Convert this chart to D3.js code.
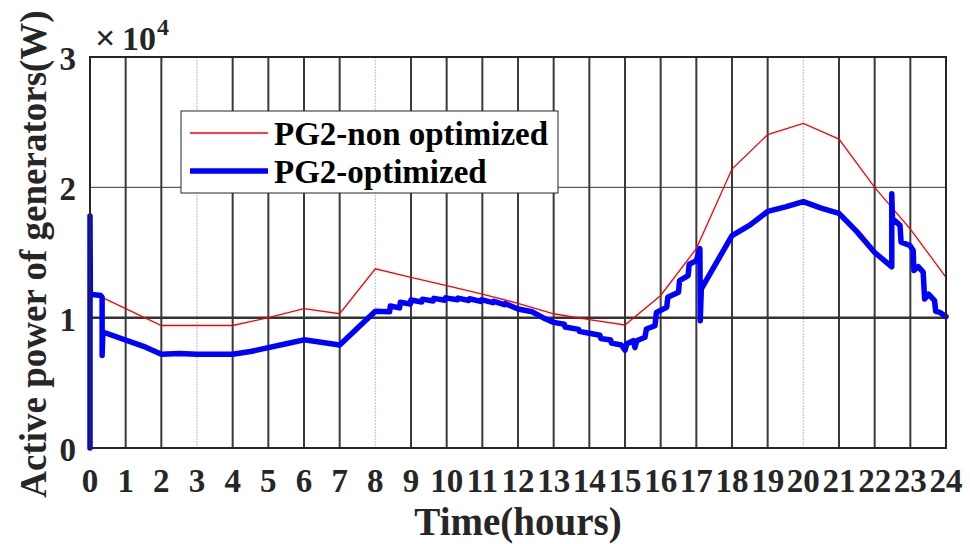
<!DOCTYPE html>
<html>
<head>
<meta charset="utf-8">
<script src="https://cdn.jsdelivr.net/npm/d3@7"></script>
<style>
  body { margin: 0; background: #fff; }
  svg { display: block; font-family: "Liberation Serif", "Times New Roman", serif; }
</style>
</head>
<body>
<svg id="chart" width="970" height="544"></svg>
<script>
// hourly values of the non optimized PG2 (x 10^4 W)
const hours = [0,1,2,3,4,5,6,7,8,9,10,11,12,13,14,15,16,17,18,19,20,21,22,23,24];
const pg2_non_opt = [1.2,1.07,0.94,0.94,0.94,1.0,1.07,1.03,1.375,1.31,1.245,1.18,1.11,1.03,0.985,0.944,1.17,1.53,2.14,2.405,2.49,2.37,2.0,1.68,1.31];

// optimized PG2, sampled where the trace bends or jumps
const opt_time = [0,0,0.01,0.3,0.34,0.34,0.36,1.5,2,2.5,3,4,4.5,5,5.5,6,7,8,
  8.4,8.42,8.68,8.7,8.98,9.0,9.3,9.32,9.62,9.64,9.95,9.97,10.3,10.32,10.62,10.64,10.95,10.97,11.3,11.32,11.62,11.64,
  12.0,12.4,12.7,13.0,13.3,13.32,13.7,13.72,14.0,14.3,14.32,14.6,14.62,14.9,15.0,15.05,15.23,15.28,15.33,15.56,15.6,
  15.84,15.88,16.17,16.2,16.5,16.53,16.77,16.8,17.0,17.1,17.11,17.14,18.0,18.5,19.0,19.5,20.0,20.5,21.0,21.5,22.0,
  22.48,22.48,22.5,22.71,22.74,22.99,23.08,23.1,23.22,23.36,23.4,23.51,23.68,23.71,23.83,24.0];
const opt_power = [0,1.78,1.18,1.17,1.155,0.71,0.89,0.78,0.72,0.725,0.72,0.72,0.74,0.77,0.80,0.83,0.79,1.05,
  1.045,1.09,1.075,1.118,1.105,1.135,1.12,1.142,1.128,1.148,1.133,1.152,1.137,1.15,1.132,1.145,1.125,1.138,1.115,1.125,1.1,1.108,
  1.067,1.045,1.0,0.964,0.95,0.928,0.91,0.895,0.88,0.865,0.84,0.828,0.805,0.79,0.75,0.80,0.823,0.77,0.823,0.85,0.913,
  0.938,1.04,1.08,1.156,1.195,1.285,1.323,1.41,1.438,1.53,0.977,1.22,1.63,1.71,1.815,1.85,1.89,1.84,1.80,1.66,1.50,
  1.39,1.95,1.76,1.708,1.58,1.554,1.515,1.362,1.392,1.349,1.144,1.18,1.13,1.049,1.04,1.008];

const y_ticks = [0,1,2,3];
const light_grid = [3,8,20];   // these grid lines came out pale in the figure
const series_names = ["PG2-non optimized","PG2-optimized"];

const svg = d3.select("#chart");
const margins = {top:57, bottom:96, left:90, right:24};
const width = 970, height = 544;
const chart_width = width - margins.left - margins.right;
const chart_height = height - margins.top - margins.bottom;

const chart = svg.append("g")
  .attr("transform", `translate(${margins.left}, ${margins.top})`);

const x_scale = d3.scaleLinear().domain([0,24]).range([0, chart_width]);
const y_scale = d3.scaleLinear().domain([0,3]).range([chart_height, 0]);

// grid
const grid = chart.append("g");
grid.selectAll(".vgrid")
  .data(hours.filter(d => d > 0 && d < 24))
  .enter()
  .append("line")
  .attr("class","vgrid")
  .attr("x1", d => x_scale(d)).attr("x2", d => x_scale(d))
  .attr("y1", 0).attr("y2", chart_height)
  .style("stroke", d => light_grid.includes(d) ? "#d0d0d0" : "#3a3a3a")
  .style("stroke-width", d => light_grid.includes(d) ? 1.5 : 2)
  .style("stroke-dasharray", d => light_grid.includes(d) ? "2,1" : null);

grid.selectAll(".hgrid")
  .data([1,2])
  .enter()
  .append("line")
  .attr("class","hgrid")
  .attr("x1", 0).attr("x2", chart_width)
  .attr("y1", d => y_scale(d)).attr("y2", d => y_scale(d))
  .style("stroke", "#333")
  .style("stroke-width", d => d === 1 ? 2.5 : 1);

// lines
const line = d3.line()
  .x(d => x_scale(d[0]))
  .y(d => y_scale(d[1]));

chart.append("path")
  .datum(hours.map((h,i) => [h, pg2_non_opt[i]]))
  .attr("d", line)
  .style("fill","none")
  .style("stroke","#ff0000")
  .style("stroke-width",1.3);

chart.append("path")
  .datum(opt_time.map((t,i) => [t, opt_power[i]]))
  .attr("d", line)
  .style("fill","none")
  .style("stroke","#0000ff")
  .style("stroke-width",5.5)
  .style("stroke-linejoin","round")
  .style("stroke-linecap","round");

// box
chart.append("rect")
  .attr("x",0).attr("y",0)
  .attr("width",chart_width).attr("height",chart_height)
  .style("fill","none")
  .style("stroke","#262626")
  .style("stroke-width",2);

// tick labels
chart.selectAll(".xtick")
  .data(hours)
  .enter()
  .append("text")
  .attr("class","xtick")
  .attr("x", d => x_scale(d))
  .attr("y", chart_height + 44)
  .attr("text-anchor","middle")
  .style("font-size","33px")
  .style("font-weight","bold")
  .style("fill","#262626")
  .text(d => d);

chart.selectAll(".ytick")
  .data(y_ticks)
  .enter()
  .append("text")
  .attr("class","ytick")
  .attr("x", -14)
  .attr("y", d => y_scale(d) + 13)
  .attr("text-anchor","end")
  .style("font-size","33px")
  .style("font-weight","bold")
  .style("fill","#262626")
  .text(d => d);

// exponent, built from pieces so each one sits where matlab put it
const expo = chart.append("g").style("fill","#262626").style("font-weight","bold");
expo.append("text").attr("x", 5).attr("y", -7).style("font-size","36px").text("\u00d7");
expo.append("text").attr("x", 32).attr("y", -7).style("font-size","34px").text("10");
expo.append("text").attr("x", 67).attr("y", -22).style("font-size","24px").text("4");

// axis labels
svg.append("text")
  .attr("x", margins.left + chart_width/2)
  .attr("y", 535)
  .attr("text-anchor","middle")
  .style("font-size","39px")
  .style("font-weight","bold")
  .style("fill","#262626")
  .text("Time(hours)");

svg.append("text")
  .attr("transform", `translate(46, 254)rotate(-90)`)
  .attr("text-anchor","middle")
  .style("font-size","37px")
  .style("font-weight","bold")
  .style("fill","#262626")
  .text("Active power of generators(W)");

// legend
const legend = svg.append("g");
legend.append("rect")
  .attr("x",181).attr("y",111)
  .attr("width",377).attr("height",82)
  .style("fill","#fff")
  .style("stroke","#262626")
  .style("stroke-width",1);

const leg_items = legend.selectAll(".item")
  .data(series_names)
  .enter()
  .append("g")
  .attr("class","item")
  .attr("transform",(d,i) => `translate(190, ${133 + i*38})`);

leg_items.append("line")
  .attr("x1",0).attr("x2",78)
  .style("stroke",(d,i) => i === 0 ? "#ff0000" : "#0000ff")
  .style("stroke-width",(d,i) => i === 0 ? 1.3 : 5.5);

leg_items.append("text")
  .attr("x",84).attr("y",12)
  .style("font-size","33px")
  .style("font-weight","bold")
  .style("fill","#000")
  .text(d => d);
</script>
</body>
</html>
